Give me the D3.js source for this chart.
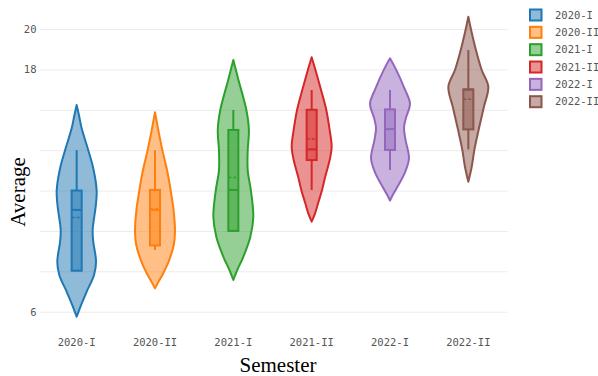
<!DOCTYPE html>
<html>
<head>
<meta charset="utf-8">
<script src="https://cdn.jsdelivr.net/npm/d3@7"></script>
<style>
  html, body { margin: 0; padding: 0; background: #fff; }
  svg { display: block; }
</style>
</head>
<body>
<svg id="chart" width="598" height="376"></svg>
<script>
// Semesters and their colours
const semesters = ["2020-I", "2020-II", "2021-I", "2021-II", "2022-I", "2022-II"];
const colors = ["#1f77b4", "#ff7f0e", "#2ca02c", "#d62728", "#9467bd", "#8c564b"];

// Y axis ticks (only some are labelled)
const yTicks = [6, 8, 10, 12, 14, 16, 18, 20];
const yTickLabels = ["6", "", "", "", "", "", "18", "20"];

// Density outline of each violin: [average, relative density]
const density2020I = [[5.75, 0], [6.33, 0.22], [6.99, 0.5], [7.82, 0.87], [8.48, 0.97], [9.47, 0.83], [10.05, 0.8], [11.28, 0.96], [12.0, 1.0], [13.1, 0.83], [14.0, 0.58], [15.08, 0.25], [15.7, 0.12], [16.24, 0]];
const density2020II = [[7.16, 0], [7.49, 0.18], [7.82, 0.37], [8.48, 0.68], [9.3, 0.94], [9.96, 1.0], [10.95, 0.94], [12.03, 0.78], [12.93, 0.62], [14.0, 0.37], [14.92, 0.18], [15.88, 0]];
const density2021I = [[7.57, 0], [8.07, 0.2], [8.72, 0.5], [9.7, 0.85], [10.7, 1.0], [12.0, 0.88], [13.0, 0.72], [14.0, 0.72], [15.0, 0.78], [16.0, 0.65], [17.5, 0.25], [18.47, 0]];
const density2021II = [[10.46, 0], [10.87, 0.17], [11.37, 0.32], [12.03, 0.52], [12.69, 0.68], [13.51, 0.9], [14.17, 1.0], [15.0, 0.9], [16.0, 0.73], [16.98, 0.47], [17.97, 0.19], [18.6, 0]];
const density2022I = [[11.5, 0], [11.8, 0.15], [12.2, 0.38], [12.9, 0.75], [13.6, 0.95], [14.5, 0.78], [15.1, 0.7], [15.6, 0.8], [16.3, 1.0], [17.0, 0.75], [18.0, 0.3], [18.55, 0]];
const density2022II = [[12.44, 0], [13.18, 0.17], [14.0, 0.3], [15.16, 0.55], [16.15, 0.78], [17.14, 1.0], [17.97, 0.67], [18.96, 0.38], [19.95, 0.14], [20.61, 0]];
const densities = [density2020I, density2020II, density2021I, density2021II, density2022I, density2022II];

// Box statistics per semester
const whiskerLow  = [8.03, 9.06, 10.0, 12.03, 13.02, 14.04];
const q1          = [8.03, 9.28, 10.0, 13.51, 14.01, 15.03];
const median      = [11.04, 11.04, 12.03, 14.04, 15.04, 17.0];
const mean        = [10.66, 11.1, 12.65, 14.55, 15.04, 16.52];
const q3          = [12.0, 12.03, 15.0, 16.0, 16.02, 17.01];
const whiskerHigh = [14.0, 14.0, 15.99, 16.98, 16.98, 18.96];

const svg = d3.select("#chart");
const margin = { left: 39.5, right: 90.5, top: 29, bottom: 64.3 };
const W = 598, H = 376;
const plotW = W - margin.left - margin.right;

const x = d3.scaleBand().domain(semesters).range([37.5, 507.5]).padding(0);
const y = d3.scaleLinear().domain([6, 20]).range([H - margin.bottom, margin.top]);
const halfWidth = d3.scaleLinear().domain([0, 1]).range([0, x.bandwidth() * 0.255]);
const boxHalf = x.bandwidth() * 0.064;

const tickFont = "'DejaVu Sans Mono', monospace";
const tickColor = "#555";

// Grid lines and y labels
const yAxis = svg.append("g")
  .attr("transform", `translate(${margin.left},0)`)
  .call(d3.axisLeft(y).tickValues(yTicks).tickSize(-(507.5 - margin.left)).tickPadding(3)
    .tickFormat((d, i) => yTickLabels[i]));
yAxis.select(".domain").remove();
yAxis.selectAll(".tick line").attr("stroke", "#ebebeb").attr("stroke-width", 1);
yAxis.selectAll(".tick text").attr("fill", tickColor).style("font-family", tickFont).style("font-size", "10.5px");

// X labels
const xAxis = svg.append("g")
  .attr("transform", `translate(0,${y(6)})`)
  .call(d3.axisBottom(x).tickSize(0));
xAxis.select(".domain").remove();
xAxis.selectAll(".tick text").attr("dy", null).attr("y", 34.3)
  .attr("fill", tickColor).style("font-family", tickFont).style("font-size", "10.5px");

// Violins and boxes
semesters.forEach((s, i) => {
  const cx = x(s) + x.bandwidth() / 2;
  const col = colors[i];
  const g = svg.append("g");

  const area = d3.area()
    .y(d => y(d[0]))
    .x0(d => cx - halfWidth(d[1]))
    .x1(d => cx + halfWidth(d[1]))
    .curve(d3.curveCatmullRom.alpha(0.5));

  g.append("path")
    .datum(densities[i])
    .attr("d", area)
    .attr("fill", col).attr("fill-opacity", 0.5)
    .attr("stroke", col).attr("stroke-width", 2).attr("stroke-linejoin", "round");

  // whiskers
  g.append("line")
    .attr("x1", cx).attr("x2", cx)
    .attr("y1", y(whiskerHigh[i])).attr("y2", y(q3[i]))
    .attr("stroke", col).attr("stroke-width", 2);
  g.append("line")
    .attr("x1", cx).attr("x2", cx)
    .attr("y1", y(q1[i])).attr("y2", y(whiskerLow[i]))
    .attr("stroke", col).attr("stroke-width", 2);

  // box
  g.append("rect")
    .attr("x", cx - boxHalf).attr("width", boxHalf * 2)
    .attr("y", y(q3[i])).attr("height", y(q1[i]) - y(q3[i]))
    .attr("fill", col).attr("fill-opacity", 0.5)
    .attr("stroke", col).attr("stroke-width", 2);

  // median
  g.append("line")
    .attr("x1", cx - boxHalf).attr("x2", cx + boxHalf)
    .attr("y1", y(median[i])).attr("y2", y(median[i]))
    .attr("stroke", col).attr("stroke-width", 2);

  // mean
  g.append("line")
    .attr("x1", cx - boxHalf).attr("x2", cx + boxHalf)
    .attr("y1", y(mean[i])).attr("y2", y(mean[i]))
    .attr("stroke", col).attr("stroke-width", 1.5).attr("stroke-dasharray", "3,2");
});

// Legend
const legend = svg.append("g").attr("transform", "translate(530,15)");
semesters.forEach((s, i) => {
  const row = legend.append("g").attr("transform", `translate(0,${i * 17.34})`);
  row.append("rect")
    .attr("x", 0).attr("y", -5.5).attr("width", 11.5).attr("height", 11)
    .attr("fill", colors[i]).attr("fill-opacity", 0.5)
    .attr("stroke", colors[i]).attr("stroke-width", 2);
  row.append("text")
    .attr("x", 25).attr("y", 0).attr("dy", "0.35em")
    .attr("fill", tickColor).style("font-family", tickFont).style("font-size", "10.5px")
    .text(s);
});

// Axis titles
svg.append("text")
  .attr("x", 278).attr("y", 372)
  .attr("text-anchor", "middle")
  .style("font-family", "'Liberation Serif', 'Times New Roman', serif")
  .style("font-size", "21px")
  .attr("fill", "#000")
  .text("Semester");

svg.append("text")
  .attr("transform", "translate(25,192) rotate(-90)")
  .attr("text-anchor", "middle")
  .style("font-family", "'Liberation Serif', 'Times New Roman', serif")
  .style("font-size", "21px")
  .attr("fill", "#000")
  .text("Average");
</script>
</body>
</html>
